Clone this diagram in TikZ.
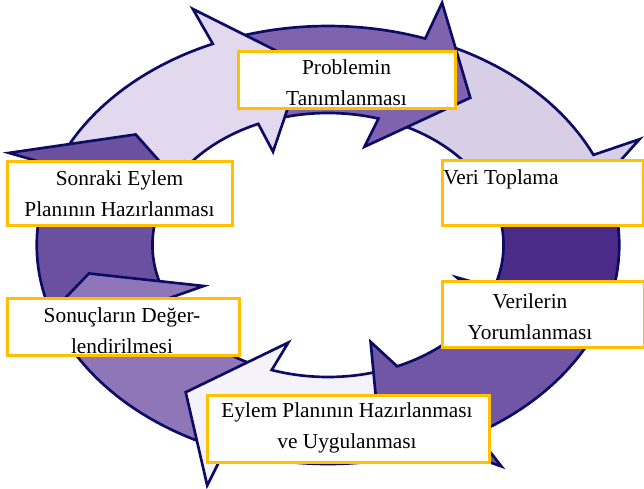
\documentclass[tikz,border=0pt]{standalone}
\usepackage{fontspec}
\setmainfont{Liberation Serif}
\definecolor{okA}{HTML}{E3D9EE}
\definecolor{okB}{HTML}{7F63AE}
\definecolor{okC}{HTML}{D8CFE6}
\definecolor{okD}{HTML}{4A2C88}
\definecolor{okE}{HTML}{7256A6}
\definecolor{okF}{HTML}{F5F2FA}
\definecolor{okG}{HTML}{8E76B8}
\definecolor{okH}{HTML}{6B50A0}
\definecolor{lacivert}{HTML}{0C0C66}
\definecolor{turuncu}{HTML}{FFC000}

\begin{document}
\begin{tikzpicture}[x=0.75pt,y=-0.75pt,
    ok/.style={draw=lacivert, line width=2pt, line join=miter},
    kutu/.style={draw=turuncu, line width=2.25pt, fill=white},
    yazi/.style={font=\fontsize{16}{23.25}\selectfont, align=center, inner sep=0pt}]
        \useasboundingbox (0,0) rectangle (644,489);

        % halkadaki oklar
        \begin{scope}[shift={(328,245)}, xscale=1.33]
            \foreach \renk/\kuy/\bod/\bui/\boi/\uc in {okC/292/335.7/335/335/352,
                okB/249.5/289.5/285.6/286.7/306, okA/204/246.7/246.1/246.6/264,
                okH/159/201/201/201/217.4, okG/113/156/156.3/156/171,
                okF/70/110.7/107/108.7/126, okE/22/59.5/71.7/66.8/78,
                okD/348/379/378.5/379/393}
                \filldraw[ok, fill=\renk] (\kuy:219) arc[start angle=\kuy, end angle=\bod, radius=219]
                    -- (\bod:257) -- (\uc:182) -- (\bui:102) -- (\boi:132)
                    arc[start angle=\boi, end angle=\kuy, radius=132] -- cycle;
        \end{scope}

        % kutular
        \draw[kutu] (238,51) rectangle (455,108);
        \draw[kutu] (442,160) rectangle (643,225);
        \draw[kutu] (442,281) rectangle (644,347);
        \draw[kutu] (207,395) rectangle (489,462);
        \draw[kutu] (7,298) rectangle (239,355);
        \draw[kutu] (7,161) rectangle (232,225);

        % yazilar
        \node[yazi] (problem) at (346.5,83) {Problemin\\Tanımlanması};
        \node[yazi, anchor=west] (veri) at (443,179) {Veri Toplama};
        \node[yazi] (yorum) at (530,317) {Verilerin\\Yorumlanması};
        \node[yazi] (eylem) at (347,428) {Eylem Planının Hazırlanması\\ve Uygulanması};
        \node[yazi] (sonuc) at (122,331) {Sonuçların Değer-\\lendirilmesi};
        \node[yazi] (sonraki) at (119.5,194) {Sonraki Eylem\\Planının Hazırlanması};
    \end{tikzpicture}
\end{document}
